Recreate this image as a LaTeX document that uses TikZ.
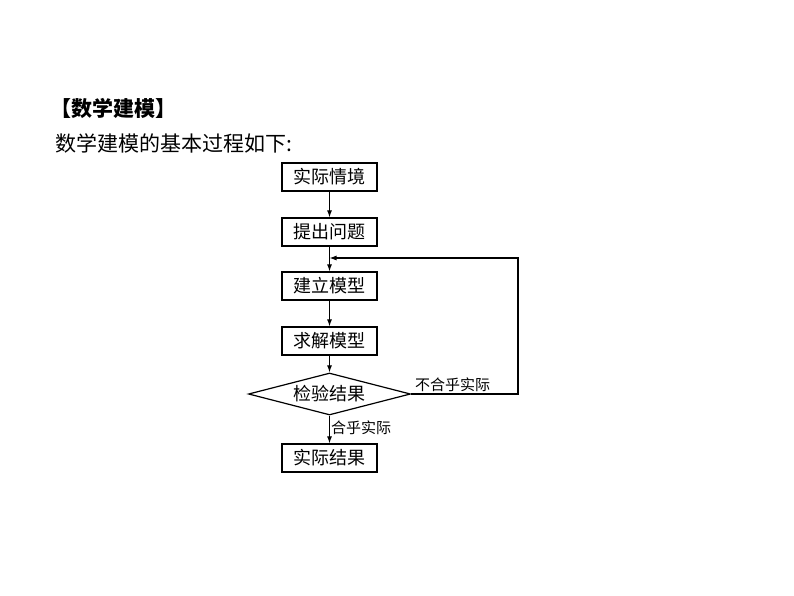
\documentclass[tikz,border=0pt]{standalone}
\usepackage{fontspec}
\newfontfamily\cjk{Noto Sans CJK SC}
\usetikzlibrary{shapes.geometric,arrows.meta}
\begin{document}
\begin{tikzpicture}[x=1pt,y=-1pt,
  stepbox/.style={draw,line width=1.2pt,minimum width=95pt,minimum height=28pt,inner sep=0pt,font=\cjk\fontsize{18}{18}\selectfont},
  conn/.style={line width=1.1pt,-{Latex[length=7pt,width=5pt]}},
  lbl/.style={font=\cjk\fontsize{15}{15}\selectfont,inner sep=1pt}]
\useasboundingbox (0,0) rectangle (794,596);
\node[anchor=west,font=\cjk\bfseries\fontsize{21}{21}\selectfont,inner sep=0pt] (t1) at (50,108) {【数学建模】};
\node[anchor=west,font=\cjk\fontsize{21}{21}\selectfont,inner sep=0pt] (t2) at (55,143) {数学建模的基本过程如下:};
\node[stepbox] (a) at (329.5,177) {实际情境};
\node[stepbox] (b) at (329.5,232) {提出问题};
\node[stepbox] (c) at (329.5,286) {建立模型};
\node[stepbox] (d) at (329.5,341) {求解模型};
\node[draw,diamond,aspect=3.9,line width=1.2pt,minimum width=162pt,minimum height=42pt,inner sep=0pt,font=\cjk\fontsize{18}{18}\selectfont] (e) at (329.5,394) {检验结果};
\node[stepbox] (f) at (329.5,458) {实际结果};
\draw[conn] (a) -- (b);
\draw[conn] (b) -- (c);
\draw[conn] (c) -- (d);
\draw[conn] (d) -- (e);
\draw[conn] (e) -- node[lbl,right,pos=0.45] {合乎实际} (f);
\coordinate (m) at (329.5,258);
\draw[conn] (e.east) -- (518,394) -- (518,258) -- (m);
\node[lbl,anchor=south west] (l2) at (414,393) {不合乎实际};
\end{tikzpicture}
\end{document}
